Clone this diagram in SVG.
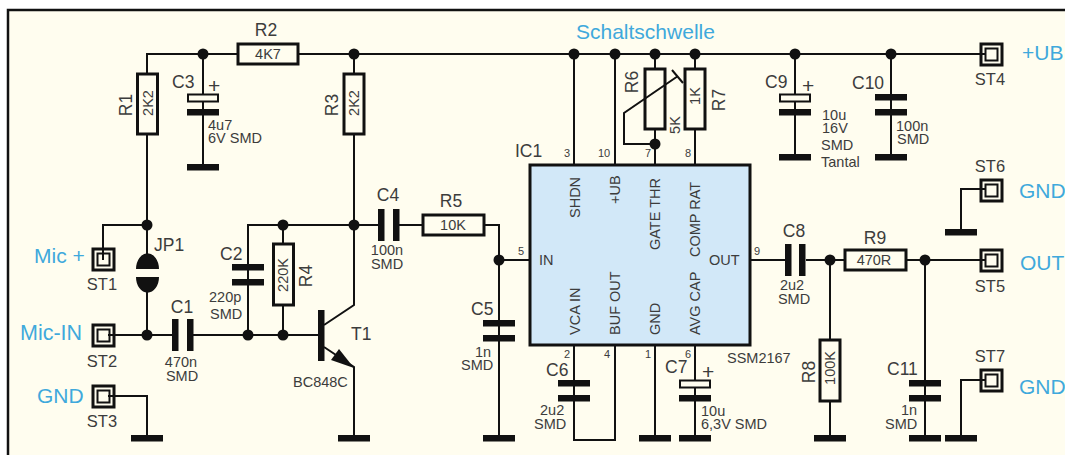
<svg xmlns="http://www.w3.org/2000/svg" width="1065" height="455" viewBox="0 0 1065 455">
<style>
text{font-family:"Liberation Sans",Arial,sans-serif;fill:#3c3c3c}
.l{font-size:17.5px}
.s{font-size:16.5px}
.v{font-size:14.5px}
.p{font-size:11px;text-anchor:middle}
.i{font-size:14.5px}
.b{font-size:21px;fill:#3fa9dc}
.m{text-anchor:middle}
.w{fill:none;stroke:#111;stroke-width:2}
.r{fill:#fffdef;stroke:#111;stroke-width:3}
.k{fill:#111}
.t{fill:none;stroke:#111}
</style>
<defs>
<rect id="gnd" x="-16" y="-3" width="32" height="6.500" class="k"/>
<rect id="plH" x="-16" y="-3" width="32" height="6.500" class="k"/>
<rect id="plV" x="-3" y="-16" width="6.500" height="32" class="k"/>
<rect id="elko" x="-15" y="-3.500" width="30" height="7" fill="#fffdef" stroke="#111" stroke-width="2"/>
<circle id="dot" r="5.500" class="k"/>
<g id="term"><rect x="-10" y="-10" width="21" height="21" class="t" stroke-width="3"/><rect x="-5.500" y="-5.500" width="12" height="12" class="t" stroke-width="2"/></g>
</defs>
<rect width="1065" height="455" fill="#fff"/>
<rect x="8" y="10" width="1057" height="445" fill="#fffdef"/>
<path d="M8 455V10H1065" fill="none" stroke="#111" stroke-width="2.500"/>
<g id="connectors">
<path class="w" d="M147 74V54H985M147 134V225M147 225V254M147 292V335M103 260V225H147M108 335H172M193 335H318M248 335V225H354M283 225V244M283 305V335M354 54V74M354 134V305L324 325M324 347L354 367V437M354 225H378M399 225H423M484 225H499V437M499 260H530M203 54V167M108 396H147V437"/>
<path class="w" d="M574 54V165M615 54V165M655 54V69M695 54V69M655 129V165M695 129V165M574 345V440H615V345M655 345V437M695 345V437M750 260H785M806 260H845M906 260H985M830 260V340M830 401V437M925 260V437M795 54V157M891 54V157M985 380H961V437M985 189H961V232"/>
<path class="k" d="M354 368L339 349L331 360Z"/>
<use href="#dot" x="203" y="54"/><use href="#dot" x="354" y="54"/><use href="#dot" x="574" y="54"/><use href="#dot" x="615" y="54"/><use href="#dot" x="655" y="54"/><use href="#dot" x="695" y="54"/><use href="#dot" x="795" y="54"/><use href="#dot" x="891" y="54"/><use href="#dot" x="147" y="225"/><use href="#dot" x="283" y="225"/><use href="#dot" x="354" y="225"/><use href="#dot" x="147" y="335"/><use href="#dot" x="248" y="335"/><use href="#dot" x="283" y="335"/><use href="#dot" x="499" y="260"/><use href="#dot" x="655" y="144"/><use href="#dot" x="830" y="260"/><use href="#dot" x="925" y="260"/>
<use href="#gnd" x="147" y="438"/><use href="#gnd" x="354" y="438"/><use href="#gnd" x="499" y="438"/><use href="#gnd" x="655" y="438"/><use href="#gnd" x="695" y="438"/><use href="#gnd" x="830" y="438"/><use href="#gnd" x="925" y="438"/><use href="#gnd" x="961" y="438"/><use href="#gnd" x="961" y="232"/><use href="#gnd" x="203" y="167"/><use href="#gnd" x="795" y="157"/><use href="#gnd" x="891" y="157"/>
</g>
<g id="R1"><rect class="r" x="137.500" y="74" width="20" height="60"/><text class="l m" transform="translate(132 105) rotate(-90)">R1</text><text class="v m" transform="translate(153 103) rotate(-90)">2K2</text></g>
<g id="R2"><rect class="r" x="238" y="44" width="60" height="20"/><text class="l m" x="266" y="36">R2</text><text class="v m" x="268" y="59">4K7</text></g>
<g id="R3"><rect class="r" x="344" y="74" width="20" height="60"/><text class="l m" transform="translate(338 105) rotate(-90)">R3</text><text class="v m" transform="translate(359 103) rotate(-90)">2K2</text></g>
<g id="C3"><use href="#elko" x="203" y="98"/><use href="#plH" x="203" y="112"/><text class="l" x="172" y="88">C3</text><text x="208" y="93" font-size="21">+</text><text class="v" x="208" y="130">4u7</text><text class="v" x="208" y="143">6V SMD</text></g>
<g id="ST1"><use href="#term" x="103" y="259"/><text class="s m" x="102" y="290">ST1</text><text class="b" x="34" y="263">Mic +</text></g>
<g id="ST2"><use href="#term" x="103" y="335"/><text class="s m" x="102" y="367">ST2</text><text class="b" x="20" y="340" style="font-size:21.500px">Mic-IN</text></g>
<g id="ST3"><use href="#term" x="103" y="396"/><text class="s m" x="102" y="427">ST3</text><text class="b" x="37" y="403">GND</text></g>
<g id="JP1"><path class="k" d="M136 269A11 15 0 0 1 159 269ZM136 277H159A11 15 0 0 1 136 277Z"/><text class="l" x="154" y="251">JP1</text></g>
<g id="C1"><use href="#plV" x="175" y="335"/><use href="#plV" x="190" y="335"/><text class="l m" x="182" y="313">C1</text><text class="v m" x="181" y="367">470n</text><text class="v m" x="182" y="381">SMD</text></g>
<g id="C2"><use href="#plH" x="248" y="267"/><use href="#plH" x="248" y="282"/><text class="l" x="220" y="260">C2</text><text class="v" x="209" y="302">220p</text><text class="v" x="210" y="319">SMD</text></g>
<g id="R4"><rect class="r" x="273.500" y="244" width="20" height="61"/><text class="v m" transform="translate(288 275) rotate(-90)">220K</text><text class="l m" transform="translate(312 276) rotate(-90)">R4</text></g>
<g id="T1"><rect class="k" x="318" y="310" width="6.500" height="51"/><text class="l" x="351" y="340">T1</text><text class="v" x="293" y="387">BC848C</text></g>
<g id="C4"><use href="#plV" x="381" y="225"/><use href="#plV" x="396" y="225"/><text class="l m" x="388" y="201">C4</text><text class="v m" x="387" y="255">100n</text><text class="v m" x="387" y="269">SMD</text></g>
<g id="R5"><rect class="r" x="423" y="215" width="61" height="20"/><text class="l m" x="451" y="207">R5</text><text class="v m" x="453" y="230">10K</text></g>
<g id="C5"><use href="#plH" x="499" y="323"/><use href="#plH" x="499" y="338"/><text class="l" x="471" y="315">C5</text><text class="v" x="475" y="357">1n</text><text class="v" x="461" y="370">SMD</text></g>
<g id="IC1"><rect x="530" y="165" width="220" height="180" fill="#d2e8f8" stroke="#111" stroke-width="3"/>
<text class="l" x="515" y="157">IC1</text><text class="v" x="727" y="363">SSM2167</text>
<text class="p" x="567" y="157">3</text><text class="p" x="604" y="157">10</text><text class="p" x="648" y="157">7</text><text class="p" x="688" y="157">8</text><text class="p" x="521" y="255">5</text><text class="p" x="757" y="255">9</text><text class="p" x="567" y="358">2</text><text class="p" x="607" y="358">4</text><text class="p" x="648" y="358">1</text><text class="p" x="688" y="358">6</text>
<text class="i" transform="translate(580 218) rotate(-90)">SHDN</text><text class="i" transform="translate(620 204) rotate(-90)">+UB</text><text class="i" transform="translate(660 250) rotate(-90)">GATE THR</text><text class="i" transform="translate(700 257) rotate(-90)">COMP RAT</text>
<text class="i" transform="translate(580 335) rotate(-90)">VCA IN</text><text class="i" transform="translate(620 335) rotate(-90)">BUF OUT</text><text class="i" transform="translate(660 335) rotate(-90)">GND</text><text class="i" transform="translate(700 335) rotate(-90)">AVG CAP</text>
<text class="i" x="539" y="265">IN</text><text class="i" x="709" y="265">OUT</text></g>
<g id="Schaltschwelle"><text class="b" x="576" y="39">Schaltschwelle</text></g>
<g id="R7"><rect class="r" x="685" y="69" width="20" height="60"/><text class="v m" transform="translate(700 96) rotate(-90)">1K</text><text class="l m" transform="translate(725 100) rotate(-90)">R7</text></g>
<g id="R6"><rect class="r" x="645" y="69" width="20" height="60"/><path class="w" d="M672 70L683 83M678 76L624 113V144H655"/><text class="l m" transform="translate(638 82) rotate(-90)">R6</text><text class="v m" transform="translate(680 125) rotate(-90)">5K</text></g>
<g id="C6"><use href="#plH" x="574" y="383"/><use href="#plH" x="574" y="398"/><text class="l" x="546" y="376">C6</text><text class="v" x="540" y="415">2u2</text><text class="v" x="534" y="429">SMD</text></g>
<g id="C7"><use href="#elko" x="695" y="384"/><use href="#plH" x="695" y="398"/><text class="l" x="665" y="373">C7</text><text x="702" y="379" font-size="21">+</text><text class="v" x="701" y="416">10u</text><text class="v" x="701" y="429">6,3V SMD</text></g>
<g id="C8"><use href="#plV" x="788" y="260"/><use href="#plV" x="802" y="260"/><text class="l m" x="794" y="237">C8</text><text class="v m" x="792" y="290">2u2</text><text class="v m" x="794" y="304">SMD</text></g>
<g id="R9"><rect class="r" x="845" y="250" width="61" height="20"/><text class="l m" x="875" y="244">R9</text><text class="v m" x="874" y="265">470R</text></g>
<g id="R8"><rect class="r" x="820" y="340" width="20" height="61"/><text class="v m" transform="translate(835 368) rotate(-90)">100K</text><text class="l m" transform="translate(815 372) rotate(-90)">R8</text></g>
<g id="C9"><use href="#elko" x="795" y="98"/><use href="#plH" x="795" y="112"/><text class="l" x="765" y="88">C9</text><text x="802" y="93" font-size="21">+</text><text class="v" x="822" y="120">10u</text><text class="v" x="822" y="133">16V</text><text class="v" x="821" y="150">SMD</text><text class="v" x="821" y="167">Tantal</text></g>
<g id="C10"><use href="#plH" x="891" y="97"/><use href="#plH" x="891" y="112"/><text class="l" x="852" y="89">C10</text><text class="v" x="896" y="131">100n</text><text class="v" x="897" y="144">SMD</text></g>
<g id="C11"><use href="#plH" x="925" y="383"/><use href="#plH" x="925" y="398"/><text class="l" x="887" y="375">C11</text><text class="v" x="901" y="415">1n</text><text class="v" x="885" y="429">SMD</text></g>
<g id="ST4"><use href="#term" x="991" y="54"/><text class="s m" x="990" y="85">ST4</text><text class="b" x="1022" y="60">+UB</text></g>
<g id="ST5"><use href="#term" x="991" y="260"/><text class="s m" x="990" y="292">ST5</text><text class="b" x="1020" y="270">OUT</text></g>
<g id="ST6"><use href="#term" x="991" y="190"/><text class="s m" x="990" y="172">ST6</text><text class="b" x="1019" y="198">GND</text></g>
<g id="ST7"><use href="#term" x="991" y="380"/><text class="s m" x="990" y="362">ST7</text><text class="b" x="1019" y="394">GND</text></g>
</svg>
